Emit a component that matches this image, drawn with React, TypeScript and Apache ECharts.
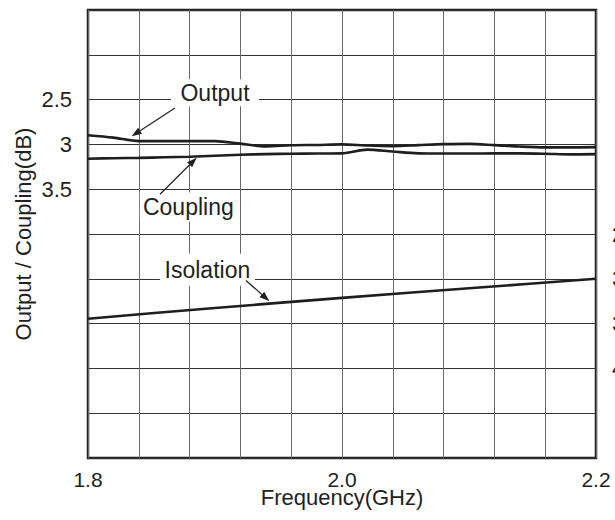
import React, { useEffect, useRef } from "react";
import * as echarts from "echarts";

const freqs = [1.8, 1.82, 1.84, 1.86, 1.88, 1.9, 1.92, 1.94, 1.96, 1.98, 2.0, 2.02, 2.04, 2.06, 2.08, 2.1, 2.12, 2.14, 2.16, 2.18, 2.2];
const outputDb = [2.897, 2.924, 2.963, 2.963, 2.963, 2.963, 2.991, 3.022, 3.01, 3.006, 3.0, 3.013, 3.019, 3.008, 2.997, 2.994, 3.008, 3.024, 3.033, 3.033, 3.03];
const couplingDb = [3.16, 3.154, 3.15, 3.144, 3.138, 3.127, 3.116, 3.108, 3.104, 3.102, 3.1, 3.058, 3.08, 3.1, 3.102, 3.102, 3.1, 3.1, 3.104, 3.111, 3.108];
const isoFreqs = [1.8, 1.9, 2.0, 2.1, 2.2];
const isolationDb = [34.45, 33.26, 32.13, 31.06, 30.0];

const xTickLabels = [1.8, 2.0, 2.2];
const leftTickLabels = [2.5, 3, 3.5];
const rightTickLabels = [25, 30, 35, 40];

// annotations: label centre and arrow from/to in data coordinates
const annotations = [
  { text: "Output", axis: 0, center: [1.9, 2.424], box: [88, 27], from: [1.8685, 2.593], to: [1.8344, 2.908] },
  { text: "Coupling", axis: 0, center: [1.879, 3.7], box: [97, 29], from: [1.8567, 3.556], to: [1.8856, 3.149] },
  { text: "Isolation", axis: 1, center: [1.894, 28.99], box: [95, 32], from: [1.9244, 30.19], to: [1.9428, 32.49] },
];

const FONT = '"Liberation Sans", Arial, Helvetica, sans-serif';
const INK = "#231f20";

export default function App() {
  const ref = useRef<HTMLDivElement>(null);
  useEffect(() => {
    if (!ref.current) return;
    const chart = echarts.init(ref.current, null, { renderer: "svg" });
    const near = (arr: number[], v: number) => arr.some((t) => Math.abs(t - v) < 1e-6);
    const option: any = {
      animation: false,
      backgroundColor: "#fff",
      grid: {
        left: 88,
        right: 19,
        top: 10,
        bottom: 62,
        containLabel: false,
        outerBoundsMode: "none",
        show: true,
        borderColor: "#222",
        borderWidth: 2.5,
        backgroundColor: "transparent",
      },
      xAxis: {
        type: "value",
        min: 1.8,
        max: 2.2,
        interval: 0.04,
        name: "Frequency(GHz)",
        nameLocation: "middle",
        nameGap: 28,
        nameMoveOverlap: false,
        nameTextStyle: { fontFamily: FONT, fontSize: 22, color: INK },
        axisLine: { show: false },
        axisTick: { show: false },
        axisLabel: {
          margin: 11,
          fontFamily: FONT,
          fontSize: 21,
          color: INK,
          showMinLabel: true,
          showMaxLabel: true,
          formatter: (v: number) => (near(xTickLabels, v) ? v.toFixed(1) : ""),
        },
        splitLine: { show: true, lineStyle: { color: "#6a6a6a", width: 1 } },
      },
      yAxis: [
        {
          type: "value",
          min: 1.5,
          max: 6.5,
          interval: 0.5,
          inverse: true,
          name: "Output / Coupling(dB)",
          nameLocation: "middle",
          nameGap: 54,
          nameRotate: 90,
          nameMoveOverlap: false,
          nameTextStyle: { fontFamily: FONT, fontSize: 22, color: INK },
          axisLine: { show: false },
          axisTick: { show: false },
          axisLabel: {
            margin: 16,
            fontFamily: FONT,
            fontSize: 22,
            color: INK,
            formatter: (v: number) => (near(leftTickLabels, v) ? String(Math.round(v * 10) / 10) : ""),
          },
          splitLine: { show: true, lineStyle: { color: "#333", width: 1 } },
        },
        {
          type: "value",
          position: "right",
          min: 0,
          max: 50,
          interval: 5,
          inverse: true,
          axisLine: { show: false },
          axisTick: { show: false },
          splitLine: { show: false },
          axisLabel: {
            margin: 16,
            fontFamily: FONT,
            fontSize: 22,
            color: INK,
            formatter: (v: number) => (near(rightTickLabels, v) ? String(v) : ""),
          },
        },
      ],
      series: [
        {
          name: "Output",
          type: "line",
          yAxisIndex: 0,
          data: freqs.map((f, i) => [f, outputDb[i]]),
          showSymbol: false,
          smooth: 0.3,
          lineStyle: { color: "#1e1e1e", width: 2.6 },
          z: 5,
        },
        {
          name: "Coupling",
          type: "line",
          yAxisIndex: 0,
          data: freqs.map((f, i) => [f, couplingDb[i]]),
          showSymbol: false,
          smooth: 0.3,
          lineStyle: { color: "#1e1e1e", width: 2.6 },
          z: 5,
        },
        {
          name: "Isolation",
          type: "line",
          yAxisIndex: 1,
          data: isoFreqs.map((f, i) => [f, isolationDb[i]]),
          showSymbol: false,
          smooth: 0.2,
          lineStyle: { color: "#1e1e1e", width: 2.6 },
          z: 5,
        },
      ],
    };
    chart.setOption(option);

    const px = (axis: number, pt: number[]) =>
      chart.convertToPixel({ xAxisIndex: 0, yAxisIndex: axis } as any, pt) as number[];

    const graphics: any[] = [];
    annotations.forEach((a) => {
      const c = px(a.axis, a.center);
      const [w, h] = a.box;
      graphics.push({
        type: "rect",
        z: 100,
        shape: { x: c[0] - w / 2, y: c[1] - h / 2, width: w, height: h },
        style: { fill: "#fff" },
      });
      graphics.push({
        type: "text",
        z: 101,
        x: c[0],
        y: c[1],
        style: {
          text: a.text,
          font: `23px ${FONT}`,
          fill: INK,
          align: "center",
          verticalAlign: "middle",
          textAlign: "center",
          textVerticalAlign: "middle",
        },
      });
      const p0 = px(a.axis, a.from);
      const p1 = px(a.axis, a.to);
      const dx = p1[0] - p0[0];
      const dy = p1[1] - p0[1];
      const L = Math.hypot(dx, dy);
      const ux = dx / L;
      const uy = dy / L;
      const hl = 10;
      const hw = 3.6;
      const base = [p1[0] - ux * hl, p1[1] - uy * hl];
      graphics.push({
        type: "line",
        z: 101,
        shape: { x1: p0[0], y1: p0[1], x2: base[0], y2: base[1] },
        style: { stroke: "#222", lineWidth: 1.2 },
      });
      graphics.push({
        type: "polygon",
        z: 101,
        shape: {
          points: [
            [p1[0], p1[1]],
            [base[0] - uy * hw, base[1] + ux * hw],
            [base[0] + uy * hw, base[1] - ux * hw],
          ],
        },
        style: { fill: "#222" },
      });
    });
    chart.setOption({ graphic: graphics });

    return () => chart.dispose();
  }, []);

  return (
    <div
      ref={ref}
      style={{ position: "fixed", left: 0, top: 0, width: 615, height: 520, background: "#fff" }}
    />
  );
}
